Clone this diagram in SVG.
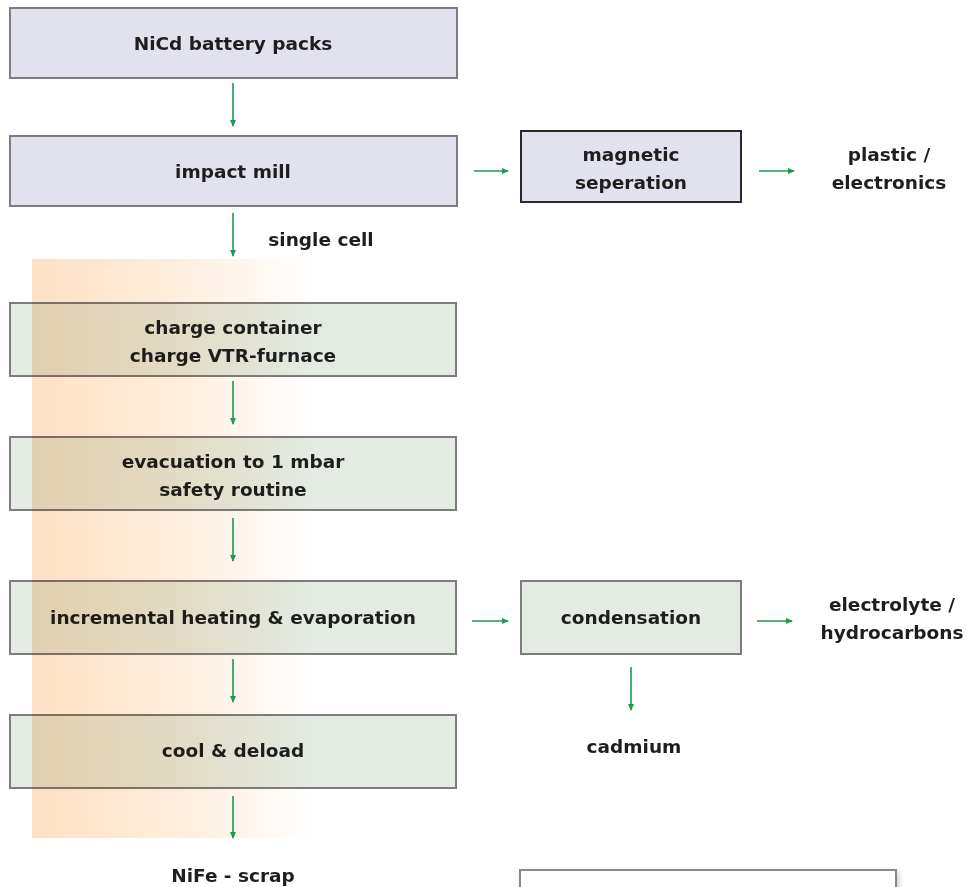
<svg xmlns="http://www.w3.org/2000/svg" width="967" height="887" viewBox="0 0 967 887">
  <defs>
    <linearGradient id="heatBand" x1="0" y1="0" x2="1" y2="0">
      <stop offset="0" stop-color="#fde1c4"/>
      <stop offset="0.5" stop-color="#feeddc"/>
      <stop offset="1" stop-color="#ffffff"/>
    </linearGradient>
    <marker id="arrow" markerWidth="8" markerHeight="8" refX="6" refY="4" orient="auto" markerUnits="userSpaceOnUse">
      <path d="M0,1 L7,4 L0,7 Z" fill="#1e9a52"/>
    </marker>
    <filter id="shadow" x="-10%" y="-50%" width="120%" height="200%">
      <feGaussianBlur stdDeviation="3"/>
    </filter>
  </defs>
  <style>
    .lav { fill: #e1e2ed; stroke: #7d7d7d; stroke-width: 2; }
    .grn { fill: #e3ebe3; stroke: #7d7d7d; stroke-width: 2; }
    .dark { stroke: #2a2a2a; }
    .lbl { font-family: "DejaVu Sans", "Liberation Sans", sans-serif; font-weight: bold; font-size: 18.5px; fill: #1e1e1e; text-anchor: middle; }
    .flow { stroke: #1e9a52; stroke-width: 1.6; fill: none; marker-end: url(#arrow); }
    .heat { mix-blend-mode: multiply; }
  </style>

  <rect width="967" height="887" fill="#ffffff"/>

  <g id="nicd-packs">
    <rect class="lav" x="10" y="8" width="447" height="70"/>
    <text class="lbl" x="233" y="50">NiCd battery packs</text>
  </g>

  <g id="impact-mill">
    <rect class="lav" x="10" y="136" width="447" height="70"/>
    <text class="lbl" x="233" y="178">impact mill</text>
  </g>

  <g id="magnetic-separation">
    <rect class="lav dark" x="521" y="131" width="220" height="71"/>
    <text class="lbl" x="631" y="161">magnetic</text>
    <text class="lbl" x="631" y="189">seperation</text>
  </g>

  <g id="plastic-electronics">
    <text class="lbl" x="889" y="161">plastic /</text>
    <text class="lbl" x="889" y="189">electronics</text>
  </g>

  <g id="single-cell">
    <text class="lbl" x="321" y="246">single cell</text>
  </g>

  <g id="charge">
    <rect class="grn" x="10" y="303" width="446" height="73"/>
    <text class="lbl" x="233" y="334">charge container</text>
    <text class="lbl" x="233" y="362">charge VTR-furnace</text>
  </g>

  <g id="evacuation">
    <rect class="grn" x="10" y="437" width="446" height="73"/>
    <text class="lbl" x="233" y="468">evacuation to 1 mbar</text>
    <text class="lbl" x="233" y="496">safety routine</text>
  </g>

  <g id="heating">
    <rect class="grn" x="10" y="581" width="446" height="73"/>
    <text class="lbl" x="233" y="624">incremental heating &amp; evaporation</text>
  </g>

  <g id="condensation">
    <rect class="grn" x="521" y="581" width="220" height="73"/>
    <text class="lbl" x="631" y="624">condensation</text>
  </g>

  <g id="electrolyte">
    <text class="lbl" x="892" y="611">electrolyte /</text>
    <text class="lbl" x="892" y="639">hydrocarbons</text>
  </g>

  <g id="cadmium">
    <text class="lbl" x="634" y="753">cadmium</text>
  </g>

  <g id="cool-deload">
    <rect class="grn" x="10" y="715" width="446" height="73"/>
    <text class="lbl" x="233" y="757">cool &amp; deload</text>
  </g>

  <g id="nife-scrap">
    <text class="lbl" x="233" y="882">NiFe - scrap</text>
  </g>

  <g id="bottom-panel">
    <rect x="522" y="872" width="376" height="30" fill="#000" opacity="0.25" filter="url(#shadow)"/>
    <rect x="520" y="870" width="376" height="30" fill="#ffffff" stroke="#8a8a8a" stroke-width="2"/>
  </g>

  <!-- warm tint over the vacuum-furnace stages -->
  <rect id="heat-zone" class="heat" x="32" y="259" width="280" height="579" fill="url(#heatBand)"/>

  <g id="connectors">
    <line class="flow" x1="233" y1="83" x2="233" y2="126"/>
    <line class="flow" x1="233" y1="213" x2="233" y2="256"/>
    <line class="flow" x1="474" y1="171" x2="508" y2="171"/>
    <line class="flow" x1="759" y1="171" x2="794" y2="171"/>
    <line class="flow" x1="233" y1="381" x2="233" y2="424"/>
    <line class="flow" x1="233" y1="518" x2="233" y2="561"/>
    <line class="flow" x1="472" y1="621" x2="508" y2="621"/>
    <line class="flow" x1="757" y1="621" x2="792" y2="621"/>
    <line class="flow" x1="631" y1="667" x2="631" y2="710"/>
    <line class="flow" x1="233" y1="659" x2="233" y2="702"/>
    <line class="flow" x1="233" y1="796" x2="233" y2="838"/>
  </g>
</svg>
